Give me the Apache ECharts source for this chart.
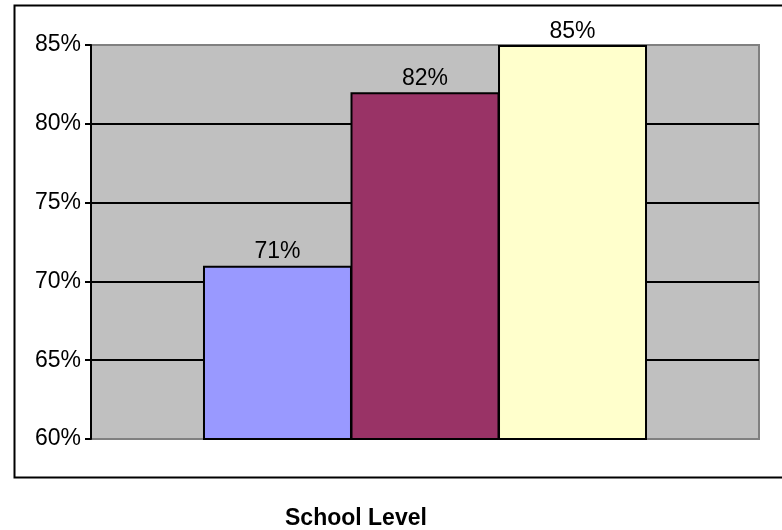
<!DOCTYPE html>
<html>
<head>
<meta charset="utf-8">
<script src="https://cdn.jsdelivr.net/npm/echarts@6/dist/echarts.min.js"></script>
<style>
html,body{margin:0;padding:0;background:#fff;}
#chart{width:782px;height:530px;}
</style>
</head>
<body>
<div id="chart"></div>
<script>
var categories = ['School Level'];
var seriesNames = ['Series A', 'Series B', 'Series C'];
var seriesValues = [[71], [82], [85]];
var seriesColors = ['#9999ff', '#993366', '#ffffcc'];
var yTicks = [60, 65, 70, 75, 80, 85];

var chart = echarts.init(document.getElementById('chart'), null, {renderer: 'canvas'});
var font = 'Liberation Sans, Arial, sans-serif';

var series = seriesValues.map(function (vals, i) {
  return {
    name: seriesNames[i],
    type: 'bar',
    data: vals,
    barWidth: 149,
    barGap: '-1%',
    itemStyle: {color: seriesColors[i], borderColor: '#000', borderWidth: 2},
    label: {
      show: true, position: 'top', distance: 2,
      formatter: '{c}%', color: '#000', fontSize: 23, fontFamily: font
    }
  };
});

chart.setOption({
  animation: false,
  backgroundColor: '#fff',
  title: {
    text: 'School Level',
    left: 280, top: 502,
    textStyle: {fontFamily: font, fontSize: 23, fontWeight: 'bold', color: '#000'}
  },
  graphic: [{
    type: 'rect', left: 12, top: 3,
    shape: {width: 772, height: 472},
    style: {fill: null, stroke: '#000', lineWidth: 2},
    z: -1
  }],
  grid: {
    left: 91, top: 45, right: 23, bottom: 91,
    show: true, backgroundColor: '#c0c0c0', borderColor: '#808080', borderWidth: 2
  },
  xAxis: {
    type: 'category', data: categories,
    axisLine: {show: false}, axisTick: {show: false}, axisLabel: {show: false},
    splitLine: {show: false}
  },
  yAxis: {
    type: 'value', min: yTicks[0], max: yTicks[yTicks.length - 1], interval: 5,
    axisLine: {show: true, lineStyle: {color: '#000', width: 2}},
    axisTick: {show: true, length: 6, lineStyle: {color: '#000', width: 2}},
    axisLabel: {formatter: '{value}%', color: '#000', fontSize: 23, fontFamily: font, margin: 10},
    splitLine: {show: true, lineStyle: {color: ['#808080', '#000', '#000', '#000', '#000', '#808080'], width: 2}}
  },
  series: series
});
</script>
</body>
</html>
